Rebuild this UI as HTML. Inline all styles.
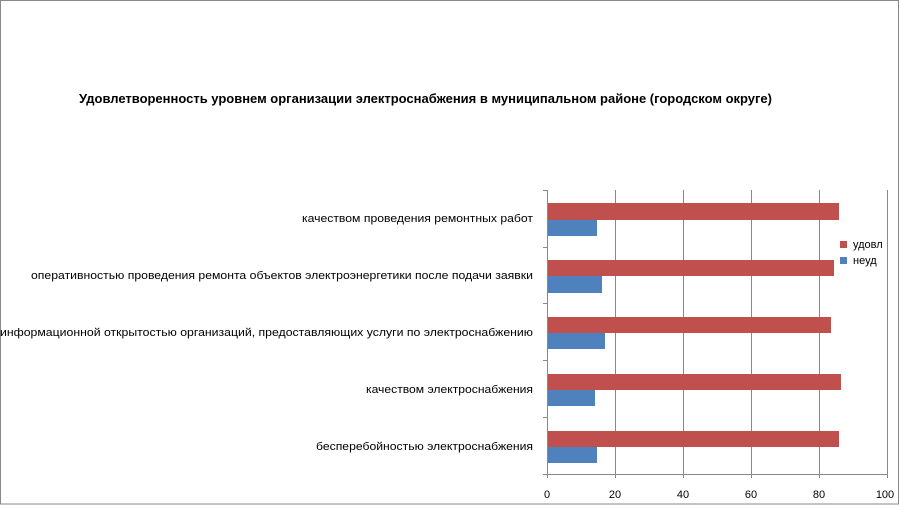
<!DOCTYPE html>
<html><head><meta charset="utf-8"><style>html,body{margin:0;padding:0;background:#fff}svg{display:block}</style></head>
<body>
<svg width="900" height="505" xmlns="http://www.w3.org/2000/svg" font-family="Liberation Sans, DejaVu Sans, sans-serif">
<rect x="0.5" y="0.5" width="898" height="503.5" fill="#fff" stroke="#888" stroke-width="1"/>
<text x="79" y="103" font-size="13" font-weight="bold" textLength="693" lengthAdjust="spacingAndGlyphs" fill="#000">Удовлетворенность уровнем организации электроснабжения в муниципальном районе (городском округе)</text>
<g stroke="#888" stroke-width="1">
<line x1="547.5" y1="190" x2="547.5" y2="478"/>
<line x1="615.5" y1="190" x2="615.5" y2="478"/>
<line x1="683.5" y1="190" x2="683.5" y2="478"/>
<line x1="751.5" y1="190" x2="751.5" y2="478"/>
<line x1="819.5" y1="190" x2="819.5" y2="478"/>
<line x1="887.5" y1="190" x2="887.5" y2="478"/>
<line x1="543" y1="190.5" x2="547" y2="190.5"/>
<line x1="543" y1="247.5" x2="547" y2="247.5"/>
<line x1="543" y1="303.5" x2="547" y2="303.5"/>
<line x1="543" y1="360.5" x2="547" y2="360.5"/>
<line x1="543" y1="417.5" x2="547" y2="417.5"/>
<line x1="543" y1="474.5" x2="887" y2="474.5"/>
</g>
<g fill="#c0504d">
<rect x="548" y="203" width="291" height="17"/>
<rect x="548" y="260" width="286" height="16"/>
<rect x="548" y="317" width="283" height="16"/>
<rect x="548" y="374" width="293" height="16"/>
<rect x="548" y="431" width="291" height="16"/>
</g>
<g fill="#4f81bd">
<rect x="548" y="220" width="49" height="16"/>
<rect x="548" y="276" width="54" height="17"/>
<rect x="548" y="333" width="57" height="16"/>
<rect x="548" y="390" width="47" height="16"/>
<rect x="548" y="447" width="49" height="16"/>
</g>
<g font-size="11" fill="#000" text-anchor="start">
<text x="302" y="222" textLength="231" lengthAdjust="spacingAndGlyphs">качеством проведения ремонтных работ</text>
<text x="31" y="279" textLength="502" lengthAdjust="spacingAndGlyphs">оперативностью проведения ремонта объектов электроэнергетики после подачи заявки</text>
<text x="0" y="336" textLength="533" lengthAdjust="spacingAndGlyphs">информационной открытостью организаций, предоставляющих услуги по электроснабжению</text>
<text x="366" y="393" textLength="167" lengthAdjust="spacingAndGlyphs">качеством электроснабжения</text>
<text x="316" y="450" textLength="217" lengthAdjust="spacingAndGlyphs">бесперебойностью электроснабжения</text>
</g>
<g font-size="11" fill="#000" text-anchor="middle">
<text x="547" y="498">0</text>
<text x="615" y="498">20</text>
<text x="683" y="498">40</text>
<text x="751" y="498">60</text>
<text x="819" y="498">80</text>
<text x="885" y="498">100</text>
</g>
<rect x="840" y="241" width="7" height="7" fill="#c0504d"/>
<text x="853" y="248" font-size="11">удовл</text>
<rect x="840" y="257" width="7" height="7" fill="#4f81bd"/>
<text x="853" y="264" font-size="11">неуд</text>
</svg>
</body></html>
